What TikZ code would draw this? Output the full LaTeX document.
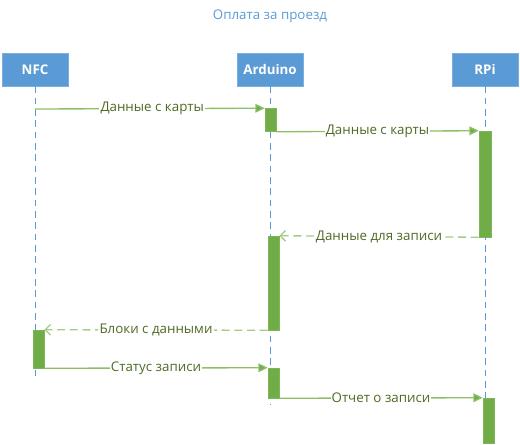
\documentclass[tikz,border=0pt]{standalone}
\usepackage{fontspec}
\setmainfont{Open Sans}
\usetikzlibrary{arrows.meta}
\definecolor{hdrblue}{HTML}{5B9BD5}
\definecolor{actgreen}{HTML}{70AD47}
\definecolor{msggreen}{HTML}{8DBF66}
\definecolor{lblgreen}{HTML}{4F6A24}
\tikzset{
  px/.style={x=0.75pt,y=-0.75pt},
  head/.style={fill=hdrblue, draw=hdrblue!80!white, text=white, font=\bfseries\fontsize{10}{12}\selectfont, minimum width=49.5pt, minimum height=24.75pt, inner sep=0pt},
  life/.style={draw=hdrblue, line width=0.6pt, dash pattern=on 5pt off 3.5pt},
  actbar/.style={fill=actgreen, draw=actgreen!90!white, line width=0.4pt},
  msg/.style={draw=msggreen, line width=1pt, -{Triangle[length=7pt,width=6.5pt,fill=actgreen]}},
  reply/.style={draw=msggreen!80!white, line width=1pt, dash pattern=on 6pt off 3.5pt, -{Straight Barb[length=4pt,width=8pt]}},
  lbl/.style={fill=white, text=lblgreen, inner sep=0.8pt, font=\fontsize{10}{12}\selectfont},
}
\begin{document}
\begin{tikzpicture}[px]
\useasboundingbox (0,0) rectangle (520,445);
\node[text=hdrblue, font=\fontsize{10}{12}\selectfont] (title) at (270,16) {Оплата за проезд};
% headers
\node[head] (nfc) at (35,69.5) {NFC};
\node[head] (ard) at (270,69.5) {Arduino};
\node[head] (rpi) at (485,69.5) {RPi};
% lifeline ends
\coordinate (nfcend) at (35,378);
\coordinate (ardend) at (270,405);
\coordinate (rpiend) at (485,443);
\draw[life] (nfc.south) -- (nfcend);
\draw[life] (ard.south) -- (ardend);
\draw[life] (rpi.south) -- (rpiend);
% activation bars
\node[actbar, minimum width=8.25pt, minimum height=17.25pt, inner sep=0pt] (a1) at (270.5,120) {};
\node[actbar, minimum width=9pt, minimum height=79.5pt, inner sep=0pt] (r1) at (485,184) {};
\node[actbar, minimum width=8.25pt, minimum height=70.5pt, inner sep=0pt] (a2) at (273.5,283) {};
\node[actbar, minimum width=8.25pt, minimum height=28.5pt, inner sep=0pt] (n1) at (38.5,349) {};
\node[actbar, minimum width=8.25pt, minimum height=22.5pt, inner sep=0pt] (a3) at (273.5,383) {};
\node[actbar, minimum width=8.25pt, minimum height=33.75pt, inner sep=0pt] (r2) at (488.5,420.5) {};
% message endpoints
\coordinate (m1s) at (35,109);
% messages
\draw[msg] (m1s) -- (a1.north west) node[lbl, pos=0.51] {Данные с карты};
\draw[msg] (a1.south east) -- (r1.north west) node[lbl, pos=0.5] {Данные с карты};
\draw[reply] (r1.south west) -- (a2.north east) node[lbl, pos=0.5] {Данные для записи};
\draw[reply] (a2.south west) -- (n1.north east) node[lbl, pos=0.5] {Блоки с данными};
\draw[msg] (n1.south east) -- (a3.north west) node[lbl, pos=0.5] {Статус записи};
\draw[msg] (a3.south east) -- (r2.north west) node[lbl, pos=0.5] {Отчет о записи};
\end{tikzpicture}
\end{document}
